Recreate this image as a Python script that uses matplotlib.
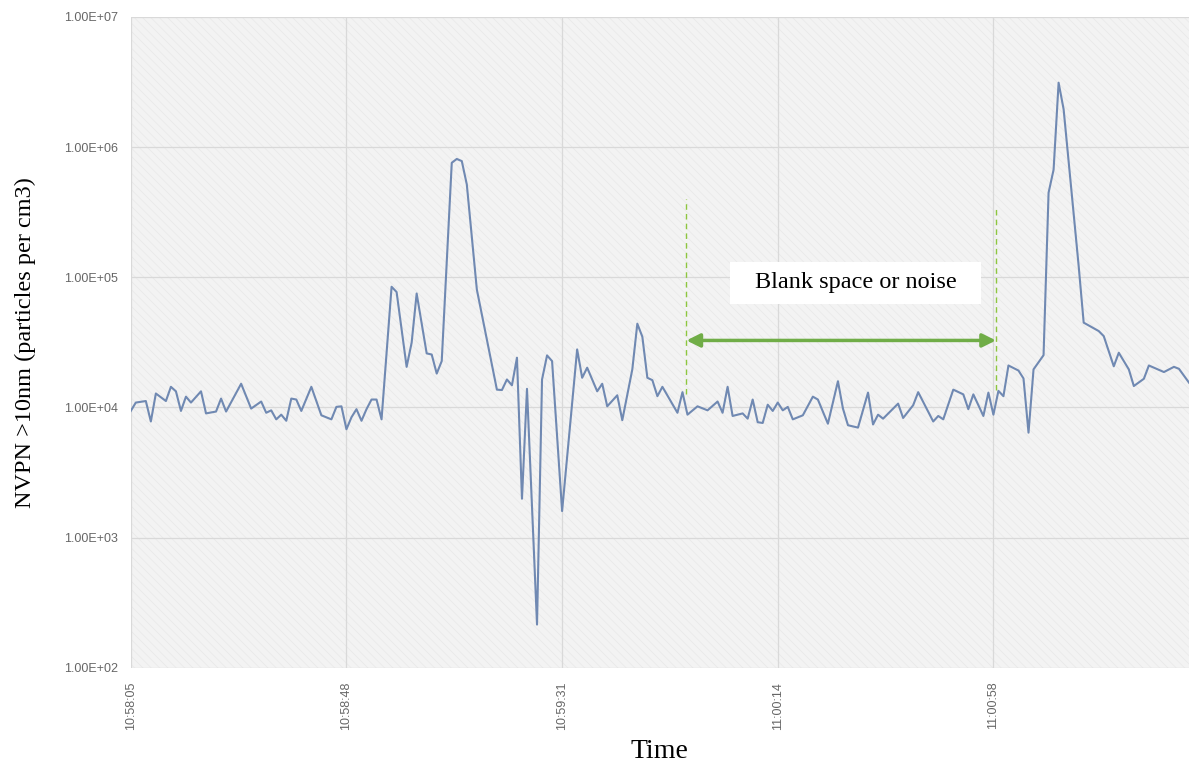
import matplotlib
matplotlib.use("Agg")
import matplotlib.pyplot as plt
import numpy as np
from matplotlib.patches import Rectangle

# ---- data (sample index = seconds since 10:58:05, particles per cm3) ----
sample_idx = [0, 1, 3, 4, 5, 7, 8, 9, 10, 11, 12, 14, 15, 17, 18, 19, 22, 24, 26, 27,
              28, 29, 30, 31, 32, 33, 34, 36, 38, 40, 41, 42, 43, 44, 45, 46, 47, 48, 49, 50,
              52, 53, 55, 56, 57, 59, 60, 61, 62, 64, 65, 66, 67, 69, 73, 74, 75, 76, 77, 78,
              79, 81, 82, 83, 84, 86, 89, 90, 91, 93, 94, 95, 97, 98, 100, 101, 102, 103, 104, 105,
              106, 109, 110, 111, 113, 115, 117, 118, 119, 120, 122, 123, 124, 125, 126, 127, 128, 129, 130, 131,
              132, 134, 136, 137, 139, 141, 142, 143, 145, 147, 148, 149, 150, 153, 154, 156, 157, 160, 161, 162,
              164, 166, 167, 168, 170, 171, 172, 173, 174, 175, 177, 178, 179, 180, 182, 183, 184, 185, 186, 189,
              190, 193, 194, 196, 197, 199, 200, 202, 203, 206, 208, 209, 211]
nvpn = [9.4e3, 1.09e4, 1.12e4, 7.8e3, 1.28e4, 1.12e4, 1.44e4, 1.33e4, 9.4e3, 1.21e4,
        1.09e4, 1.33e4, 9.0e3, 9.3e3, 1.17e4, 9.3e3, 1.52e4, 9.8e3, 1.11e4, 9.1e3,
        9.5e3, 8.1e3, 8.8e3, 7.9e3, 1.17e4, 1.15e4, 9.4e3, 1.44e4, 8.7e3, 8.1e3,
        1.01e4, 1.02e4, 6.8e3, 8.4e3, 9.7e3, 7.9e3, 9.7e3, 1.15e4, 1.15e4, 8.1e3,
        8.45e4, 7.7e4, 2.05e4, 3.14e4, 7.5e4, 2.6e4, 2.55e4, 1.82e4, 2.27e4, 7.57e5,
        8.1e5, 7.8e5, 5.16e5, 8.05e4, 1.37e4, 1.36e4, 1.64e4, 1.48e4, 2.41e4, 1.99e3,
        1.39e4, 2.15e2, 1.64e4, 2.51e4, 2.27e4, 1.6e3, 2.79e4, 1.69e4, 2.02e4, 1.33e4,
        1.52e4, 1.02e4, 1.24e4, 7.98e3, 1.96e4, 4.4e4, 3.49e4, 1.69e4, 1.62e4, 1.22e4,
        1.44e4, 9.1e3, 1.31e4, 8.8e3, 1.02e4, 9.5e3, 1.11e4, 9.1e3, 1.44e4, 8.6e3,
        9.0e3, 8.2e3, 1.15e4, 7.7e3, 7.6e3, 1.05e4, 9.4e3, 1.09e4, 9.5e3, 1.01e4,
        8.1e3, 8.7e3, 1.21e4, 1.15e4, 7.5e3, 1.59e4, 9.8e3, 7.3e3, 7.0e3, 1.30e4,
        7.4e3, 8.8e3, 8.2e3, 1.07e4, 8.3e3, 1.04e4, 1.31e4, 7.8e3, 8.6e3, 8.1e3,
        1.37e4, 1.26e4, 9.7e3, 1.26e4, 8.6e3, 1.3e4, 8.8e3, 1.34e4, 1.22e4, 2.1e4,
        1.92e4, 1.67e4, 6.4e3, 1.96e4, 2.52e4, 4.46e5, 6.7e5, 3.12e6, 1.95e6, 1.22e5,
        4.48e4, 3.86e4, 3.53e4, 2.07e4, 2.63e4, 1.96e4, 1.46e4, 1.66e4, 2.1e4, 1.87e4,
        2.05e4, 1.98e4, 1.55e4]

tick_idx = [0, 43, 86, 129, 172]
tick_labels = ["10:58:05", "10:58:48", "10:59:31", "11:00:14", "11:00:58"]
y_ticks = [1e2, 1e3, 1e4, 1e5, 1e6, 1e7]
y_tick_labels = ["1.00E+02", "1.00E+03", "1.00E+04", "1.00E+05", "1.00E+06", "1.00E+07"]

# annotation (data units)
blank_start, blank_end = 110.8, 172.5
arrow_level = 3.27e4
left_dash = (1.26e4, 3.97e5)
right_dash = (1.37e4, 3.43e5)
label_text = 'Blank space or noise'
label_pos = (144.5, 9.04e4)
label_box_x = (119.4, 169.5)
label_box_y = (6.18e4, 1.32e5)
x_max = 211

plt.rcParams['hatch.linewidth'] = 0.4
plt.rcParams['hatch.color'] = '#e4e4e4'

fig = plt.figure(figsize=(11.89, 7.65), dpi=100)
ax = fig.add_axes([0.110, 0.127, 0.890, 0.851])
ax.set_facecolor('#f3f3f3')
ax.add_patch(Rectangle((0, 0), 1, 1, transform=ax.transAxes, facecolor='none',
                       edgecolor='#e6e6e6', hatch='\\\\\\\\', lw=0, zorder=0))

ax.set_yscale('log')
ax.set_ylim(1e2, 1e7)
ax.set_xlim(0, x_max)

ax.plot(sample_idx, nvpn, color='#7089b2', lw=1.5, zorder=3, solid_joinstyle='round')

ax.set_yticks(y_ticks)
ax.set_yticklabels(y_tick_labels)
ax.yaxis.set_minor_locator(matplotlib.ticker.NullLocator())
ax.set_xticks(tick_idx)
ax.set_xticklabels(tick_labels, rotation=90)
ax.tick_params(axis='both', length=0, labelsize=9, labelcolor='#666666')
ax.tick_params(axis='y', pad=9)
ax.tick_params(axis='x', pad=10)
for lab in ax.get_xticklabels() + ax.get_yticklabels():
    lab.set_family('Liberation Sans')

ax.grid(True, color='#d9d9d9', lw=0.9)
ax.set_axisbelow(True)
for s in ax.spines.values():
    s.set_visible(False)

ax.set_ylabel('NVPN >10nm (particles per cm3)', family='Liberation Serif', fontsize=17.5)
ax.yaxis.set_label_coords(-0.090, 0.5)
ax.set_xlabel('Time', family='Liberation Serif', fontsize=20)
ax.xaxis.set_label_coords(0.5, -0.110)

# annotation
ax.plot([blank_start, blank_start], left_dash, ls=(0, (4, 3)), color='#8dc63f', lw=1.0, zorder=4)
ax.plot([blank_end, blank_end], right_dash, ls=(0, (4, 3)), color='#8dc63f', lw=1.0, zorder=4)
ax.annotate('', xy=(blank_start, arrow_level), xytext=(blank_end, arrow_level),
            arrowprops=dict(arrowstyle='<|-|>', color='#70ad47', lw=2.5,
                            mutation_scale=20, shrinkA=0, shrinkB=0), zorder=5)
ax.add_patch(Rectangle((label_box_x[0], label_box_y[0]), label_box_x[1] - label_box_x[0],
                       label_box_y[1] - label_box_y[0], facecolor='white', edgecolor='none', zorder=6))
ax.text(label_pos[0], label_pos[1], label_text, family='Liberation Serif',
        fontsize=17.5, ha='center', va='center', zorder=7)

fig.savefig('out.png', dpi=100)
